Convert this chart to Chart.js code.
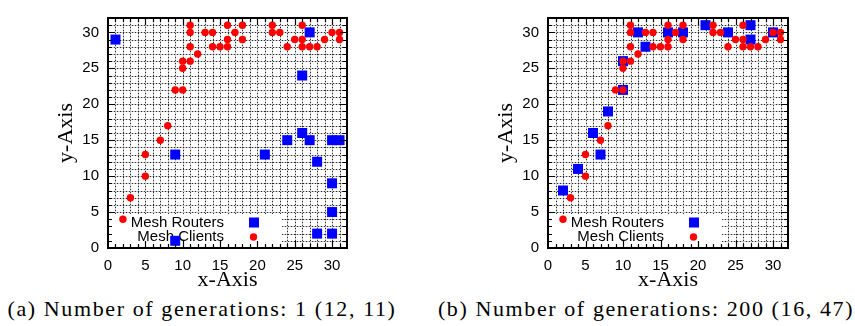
<!DOCTYPE html>
<html><head><meta charset="utf-8">
<script src="https://cdn.jsdelivr.net/npm/chart.js@4/dist/chart.umd.min.js"></script>
<style>
html,body{margin:0;padding:0;background:#fff;width:855px;height:326px;overflow:hidden;position:relative}
.box{position:absolute;top:0;height:295px}
#boxA{left:0;width:430px}
#boxB{left:440px;width:415px}
.cap{position:absolute;top:296px;font-family:'Liberation Serif',serif;font-size:22px;line-height:26px;letter-spacing:1.6px;white-space:nowrap;color:#000;transform:translateX(-50%)}
#capA{left:202px}
#capB{left:646px}
</style></head><body>
<div class="box" id="boxA"><canvas id="cA"></canvas></div>
<div class="box" id="boxB"><canvas id="cB"></canvas></div>
<div class="cap" id="capA">(a) Number of generations: 1 (12, 11)</div>
<div class="cap" id="capB">(b) Number of generations: 200 (16, 47)</div>
<script>
// Mesh clients (same positions in both panels)
const clientX = [2,3,5,5,7,8,9,10,10,10,11,11,11,11,12,13,14,14,15,16,16,16,17,18,18,22,22,23,24,25,26,26,26,27,28,29,30,31,31];
const clientY = [4,7,10,13,15,17,22,22,25,26,26,28,30,31,27,30,30,28,28,28,29,31,30,31,29,31,30,30,28,29,31,29,28,28,28,29,30,30,29];
// Mesh routers, panel (a): generation 1
const routersAX = [1,27,26,26,24,27,30,31,9,21,28,30,30,28,30,9];
const routersAY = [29,30,24,16,15,15,15,15,13,13,12,9,5,2,2,1];
// Mesh routers, panel (b): generation 200
const routersBX = [2,4,7,6,8,10,10,12,13,16,18,21,24,27,27,30];
const routersBY = [8,11,13,16,19,22,26,30,28,30,30,31,30,31,29,30];
// Axis ticks
const tickValues = [0,5,10,15,20,25,30];
const axisMin = 0, axisMax = 32;
const legendLabels = ['Mesh Routers','Mesh Clients'];

const frame = {
  id:'gnuFrame',
  beforeDatasetsDraw(chart){
    const {ctx, chartArea:a, scales:{x,y}} = chart;
    ctx.save();
    ctx.lineWidth = 1;
    for(let v=axisMin+1; v<axisMax; v++){
      const px = Math.round(x.getPixelForValue(v))+0.5;
      const py = Math.round(y.getPixelForValue(v))+0.5;
      ctx.setLineDash([]);
      ctx.strokeStyle = '#c4c4c4';
      ctx.beginPath(); ctx.moveTo(px,a.top); ctx.lineTo(px,a.bottom); ctx.stroke();
      ctx.beginPath(); ctx.moveTo(a.left,py); ctx.lineTo(a.right,py); ctx.stroke();
      ctx.setLineDash([1,2]);
      ctx.strokeStyle = '#2a2a2a';
      ctx.beginPath(); ctx.moveTo(px,a.top); ctx.lineTo(px,a.bottom); ctx.stroke();
      ctx.beginPath(); ctx.moveTo(a.left,py); ctx.lineTo(a.right,py); ctx.stroke();
    }
    ctx.setLineDash([]);
    // legend box
    ctx.fillStyle = '#fff';
    ctx.fillRect(a.left, a.bottom-34, 174, 34);
    ctx.fillStyle = '#000';
    ctx.font = '15px "Liberation Sans", Arial, sans-serif';
    ctx.textAlign = 'right'; ctx.textBaseline = 'middle';
    ctx.fillText(legendLabels[0], a.left+116, a.bottom-25.5);
    ctx.fillText(legendLabels[1], a.left+116, a.bottom-11);
    ctx.fillStyle = '#0000ff';
    ctx.fillRect(a.left+141, a.bottom-30.5, 10, 10);
    ctx.fillStyle = '#ff0000';
    ctx.beginPath(); ctx.arc(a.left+145.5, a.bottom-11, 3.7, 0, Math.PI*2); ctx.fill();
    ctx.restore();
  },
  afterDatasetsDraw(chart){
    const {ctx, chartArea:a, scales:{x,y}} = chart;
    ctx.save();
    ctx.strokeStyle = '#000';
    ctx.lineWidth = 1.2;
    for(let v=axisMin+1; v<axisMax; v++){
      const L = (v%5===0)?7:4;
      const px = Math.round(x.getPixelForValue(v))+0.5;
      const py = Math.round(y.getPixelForValue(v))+0.5;
      ctx.beginPath();
      ctx.moveTo(px,a.bottom); ctx.lineTo(px,a.bottom-L);
      ctx.moveTo(px,a.top); ctx.lineTo(px,a.top+L);
      ctx.moveTo(a.left,py); ctx.lineTo(a.left+L,py);
      ctx.moveTo(a.right,py); ctx.lineTo(a.right-L,py);
      ctx.stroke();
    }
    ctx.lineWidth = 2;
    ctx.strokeRect(a.left, a.top, a.right-a.left, a.bottom-a.top);
    ctx.restore();
  }
};

function makeChart(id, rx, ry, padRight){
  const routers = rx.map((v,i)=>({x:v, y:ry[i]}));
  const clients = clientX.map((v,i)=>({x:v, y:clientY[i]}));
  const tickFont = {family:'"Liberation Sans", Arial, sans-serif', size:15};
  const titleFont = {family:'"Liberation Serif", "Times New Roman", serif', size:22, lineHeight:1};
  return new Chart(document.getElementById(id), {
    type:'scatter',
    data:{datasets:[
      {label:legendLabels[1], data:clients, pointStyle:'circle', pointRadius:3.7, pointBackgroundColor:'#ff0000', pointBorderWidth:0, order:0},
      {label:legendLabels[0], data:routers, pointStyle:'rect', pointRadius:7.07, pointBackgroundColor:'#0000ff', pointBorderWidth:0, order:1}
    ]},
    options:{
      responsive:true, maintainAspectRatio:false, animation:false,
      layout:{padding:{left:0,right:padRight,top:7,bottom:0}},
      plugins:{legend:{display:false}, tooltip:{enabled:false}},
      scales:{
        x:{type:'linear', min:axisMin, max:axisMax,
          afterBuildTicks:s=>{s.ticks = tickValues.map(v=>({value:v}));},
          afterFit:s=>{s.height = 47;},
          grid:{display:false, drawTicks:false, tickLength:0}, border:{display:false},
          ticks:{font:tickFont, color:'#000', padding:9, maxRotation:0, autoSkip:false},
          title:{display:true, text:'x-Axis', font:titleFont, color:'#000', padding:{top:0,bottom:4}}},
        y:{type:'linear', min:axisMin, max:axisMax,
          afterBuildTicks:s=>{s.ticks = tickValues.map(v=>({value:v}));},
          afterFit:s=>{s.width = 108;},
          grid:{display:false, drawTicks:false, tickLength:0}, border:{display:false},
          ticks:{font:tickFont, color:'#000', padding:9, autoSkip:false},
          title:{display:true, text:'y-Axis', font:titleFont, color:'#000', padding:{top:55,bottom:0}}}
      }
    },
    plugins:[frame]
  });
}
makeChart('cA', routersAX, routersAY, 83);
makeChart('cB', routersBX, routersBY, 67);
</script>
</body></html>
